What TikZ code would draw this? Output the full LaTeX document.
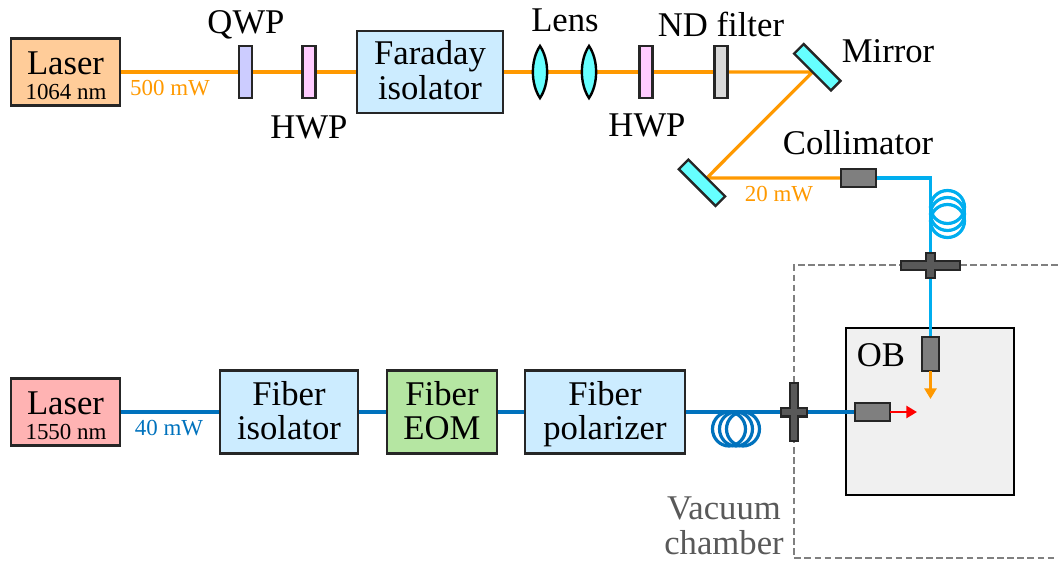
\documentclass[tikz,border=0pt]{standalone}
\usepackage{fontspec}
\setmainfont{Liberation Serif}
\usetikzlibrary{arrows.meta,shapes.geometric,backgrounds}
\definecolor{beamorange}{HTML}{FF9900}
\definecolor{fibcyan}{HTML}{00AEEF}
\definecolor{fibblue}{HTML}{0072BD}
\definecolor{laserA}{HTML}{FFCC99}
\definecolor{laserB}{HTML}{FFB3B3}
\definecolor{boxblue}{HTML}{CCECFF}
\definecolor{eomgreen}{HTML}{B5E6A2}
\definecolor{qwpc}{HTML}{CCCCFF}
\definecolor{hwpc}{HTML}{FFCCFF}
\definecolor{ndc}{HTML}{D9D9D9}
\definecolor{mirrorc}{HTML}{66FFFF}
\definecolor{colgray}{HTML}{7F7F7F}
\definecolor{ftgray}{HTML}{595959}
\definecolor{obgray}{HTML}{F0F0F0}
\newcommand\bigtxt{\fontsize{26}{26.2}\selectfont}
\newcommand\smalltxt{\fontsize{17.2}{18}\selectfont}
\tikzset{
  x=0.75pt,y=-0.75pt,
  sz/.style 2 args={minimum width=#1*0.75pt,minimum height=#2*0.75pt,inner sep=0pt,outer sep=0pt},
  part/.style={draw=black!85,line width=1.8pt,align=center},
  plate/.style={part,sz={13}{52}},
  collim/.style={part,fill=colgray},
  mirrorbox/.style={part,fill=mirrorc,sz={52}{13.5},rotate=-45},
  lensshape/.style={draw=black,line width=1.8pt,fill=mirrorc,line join=miter},
  beam/.style={draw=beamorange,line width=2.4pt},
  fibA/.style={draw=fibcyan,line width=2.4pt},
  fibB/.style={draw=fibblue,line width=2.4pt},
  coilA/.style={ellipse,draw=fibcyan,line width=2.4pt,sz={34}{33}},
  coilB/.style={ellipse,draw=fibblue,line width=2.4pt,sz={33}{34}},
  feed/.style={draw=black!85,fill=ftgray,line width=1.8pt},
  lab/.style={font=\bigtxt,inner sep=0pt,align=center},
  pw/.style={font=\smalltxt,inner sep=0pt},
  tipped/.style={line width=2.1pt,-{Triangle[length=8pt,width=9pt]}},
}
\begin{document}
\begin{tikzpicture}
\useasboundingbox (0,0) rectangle (1058,561);
% vacuum chamber
\draw[draw=black!50,line width=1.5pt,dash pattern=on 5pt off 2.6pt] (1058,265) -- (794,265) -- (794,558) -- (1058,558);
% top line
\node[part,fill=laserA,sz={109}{67}] (laserT) at (65.5,72) {};
\node[font=\bigtxt,inner sep=0pt] (laserTa) at (65.5,63) {Laser};
\node[font=\smalltxt,inner sep=0pt] (laserTb) at (66,92) {1064 nm};
\node[plate,fill=qwpc] (qwp) at (245.5,72) {};
\node[plate,fill=hwpc] (hwpa) at (309,72) {};
\node[part,fill=boxblue,sz={146}{82}] (far) at (430,72) {};
\node[lab] (tfar) at (430,75) {Faraday\strut\\isolator\strut};
\coordinate (lensa) at (540,72);
\coordinate (lensb) at (589,72);
\draw[lensshape] (540,46) .. controls (549.5,60) and (549.5,84) .. (540,98) .. controls (530.5,84) and (530.5,60) .. (540,46) -- cycle;
\draw[lensshape] (589,46) .. controls (598.5,60) and (598.5,84) .. (589,98) .. controls (579.5,84) and (579.5,60) .. (589,46) -- cycle;
\node[plate,fill=hwpc] (hwpb) at (646,72) {};
\node[plate,fill=ndc] (nd) at (721,72) {};
\node[mirrorbox] (ma) at (817.3,67.23) {};
\node[mirrorbox] (mb) at (702,182.77) {};
\node[collim,sz={35}{17.5}] (cola) at (858.5,178) {};
\node[coilA] (ca1) at (947.5,207) {};
\node[coilA] (ca2) at (947.5,214) {};
\node[coilA] (ca3) at (947.5,221) {};
\coordinate (fta) at (930.5,265.5);
\draw[feed] (901,261) -- (926,261) -- (926,253) -- (935,253) -- (935,261) -- (960,261) -- (960,270) -- (935,270) -- (935,278) -- (926,278) -- (926,270) -- (901,270) -- cycle;
% OB inner parts
\node[collim,sz={17.5}{34}] (colb) at (930.5,354) {};
\node[collim,sz={34.5}{17.5}] (colc) at (872.5,412) {};
\coordinate (tipa) at (930.5,399);
\coordinate (tipb) at (917,412);
\draw[tipped,draw=beamorange,fill=beamorange] (colb.south) -- (tipa);
\draw[tipped,draw=red,fill=red] (colc.east) -- (tipb);
% bottom line
\node[part,fill=laserB,sz={109}{67}] (laserB) at (65.5,412) {};
\node[font=\bigtxt,inner sep=0pt] (laserBa) at (65.5,403) {Laser};
\node[font=\smalltxt,inner sep=0pt] (laserBb) at (66,432) {1550 nm};
\node[part,fill=boxblue,sz={138}{83}] (fiso) at (289,412) {};
\node[lab] (tiso) at (289,415.5) {Fiber\strut\\isolator\strut};
\node[part,fill=eomgreen,sz={110}{83}] (feom) at (442,412) {};
\node[lab] (teom) at (442,415.5) {Fiber\strut\\EOM\strut};
\node[part,fill=boxblue,sz={160}{83}] (fpol) at (605,412) {};
\node[lab] (tpol) at (605,415.5) {Fiber\strut\\polarizer\strut};
\node[coilB] (cb1) at (729,429) {};
\node[coilB] (cb2) at (736,429) {};
\node[coilB] (cb3) at (743,429) {};
\coordinate (ftb) at (794,412);
\draw[feed] (790,383) -- (798,383) -- (798,408) -- (807,408) -- (807,416.5) -- (798,416.5) -- (798,441) -- (790,441) -- (790,416.5) -- (781,416.5) -- (781,408) -- (790,408) -- cycle;
% connectors behind the parts
\begin{pgfonlayer}{background}
\node[part,fill=obgray,draw=black,sz={168}{167}] (ob) at (930,411.5) {};
\draw[beam] (laserT.east) -- (qwp.west);
\draw[beam] (qwp.east) -- (hwpa.west);
\draw[beam] (hwpa.east) -- (far.west);
\draw[beam] (far.east) -- (lensa);
\draw[beam] (lensa) -- (lensb);
\draw[beam] (lensb) -- (hwpb.west);
\draw[beam] (hwpb.east) -- (nd.west);
\draw[beam,line join=round] (nd.east) -- (ma.south) -- (mb.north) -- (cola.west);
\draw[fibA] (cola.east) -| (fta);
\draw[fibA] (fta) -- (colb.north);
\draw[fibB] (laserB.east) -- (fiso.west);
\draw[fibB] (fiso.east) -- (feom.west);
\draw[fibB] (feom.east) -- (fpol.west);
\draw[fibB] (fpol.east) -- (ftb);
\draw[fibB] (ftb) -- (colc.west);
\end{pgfonlayer}
% labels
\node[lab] (tqwp) at (246,25) {QWP};
\node[lab] (thwpa) at (309,127) {HWP};
\node[lab] (tlens) at (565,20) {Lens};
\node[lab] (tnd) at (721,24) {ND filter};
\node[lab] (tmirror) at (888,51) {Mirror};
\node[lab] (thwpb) at (647,125) {HWP};
\node[lab] (tcol) at (858,143) {Collimator};
\node[lab] (tob) at (881,355) {OB};
\node[lab,text=ftgray] (tvac) at (724,530) {Vacuum\strut\\chamber\strut};
\node[pw,text=beamorange] (p500) at (170,88) {500 mW};
\node[pw,text=beamorange] (p20) at (779,194) {20 mW};
\node[pw,text=fibblue] (p40) at (169,428) {40 mW};
\end{tikzpicture}
\end{document}
